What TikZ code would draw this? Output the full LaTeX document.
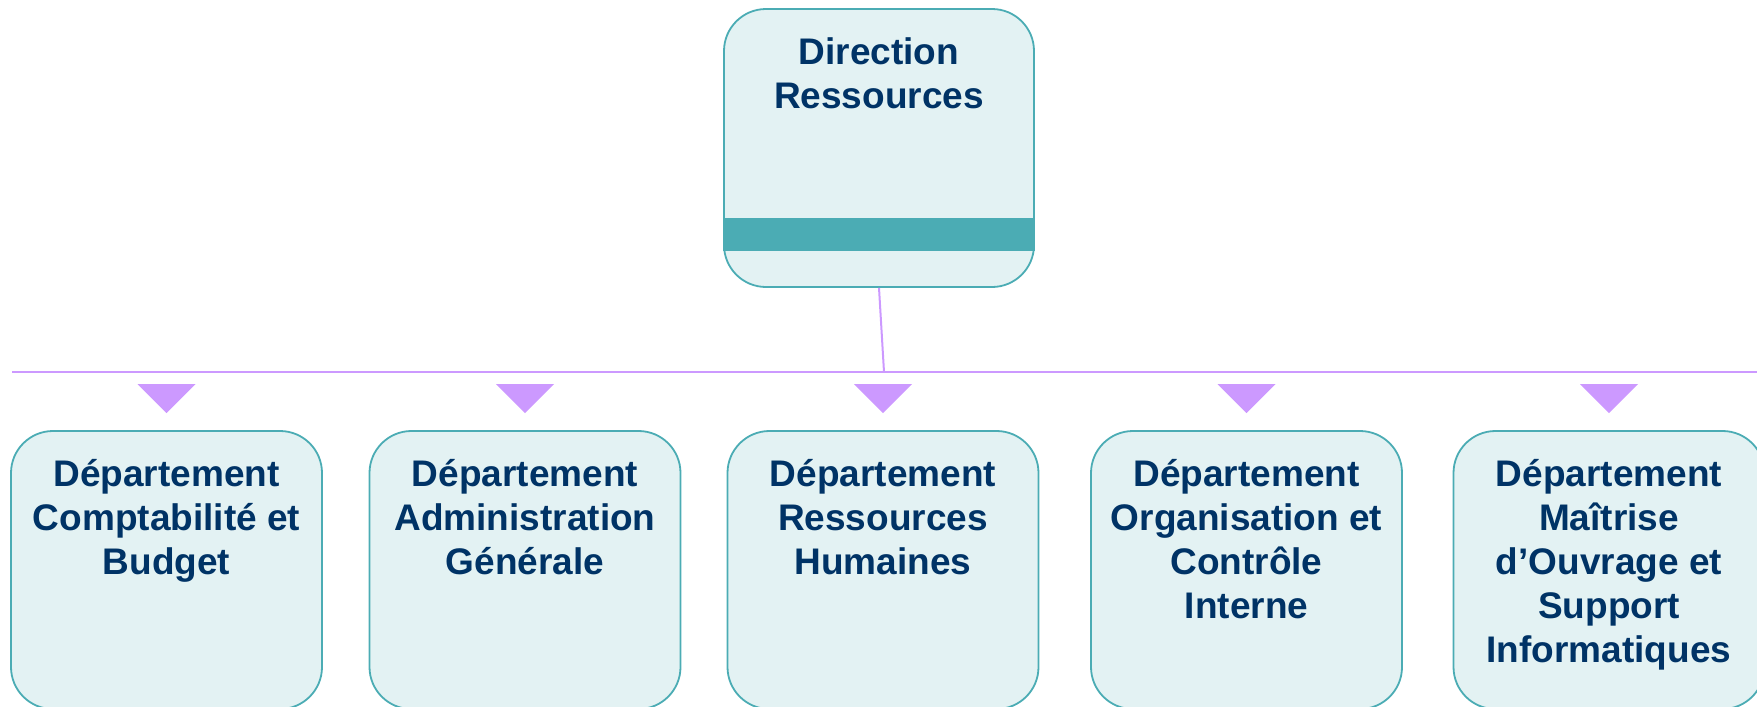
\documentclass[tikz,border=0pt]{standalone}
\usepackage{fontspec}
\setmainfont{Liberation Sans}
\definecolor{navytext}{RGB}{0,51,102}
\definecolor{boxfill}{RGB}{227,242,243}
\definecolor{boxline}{RGB}{75,172,180}
\definecolor{lilac}{RGB}{204,153,255}
\begin{document}
\begin{tikzpicture}[x=0.5pt,y=0.5pt,
    dept/.style={draw=boxline,line width=0.9pt,fill=boxfill,rounded corners=21pt,
        minimum width=155.5pt,minimum height=139pt,inner sep=0pt},
    head/.style={dept,minimum width=155pt,minimum height=139pt},
    lbl/.style={anchor=north,yshift=-14.5pt,inner sep=0pt,align=center,text=navytext,
        font=\fontsize{18.5}{22}\selectfont\bfseries},
    link/.style={draw=lilac,line width=1pt},
    pointer/.style={fill=lilac}]
            \useasboundingbox (0,0) rectangle (1757,-707);
            % head of the branch
            \node[head,label={[lbl]north:{Direction\\Ressources}}] (dr) at (879,-148) {};
            \fill[boxline] ([yshift=18.5pt]dr.south west) rectangle ([yshift=35pt]dr.south east);
            % bus
            \coordinate (busl) at (12,-372);
            \coordinate (busr) at (1757,-372);
            \coordinate (tap) at (884,-372);
            \draw[link] (busl) -- (busr);
            \draw[link] (dr.south) -- (tap);
            % departments
            \node[dept,label={[lbl]north:{Département\\Comptabilité et\\Budget}}] (d1) at (166.5,-570) {};
            \node[dept,label={[lbl]north:{Département\\Administration\\Générale}}] (d2) at (525,-570) {};
            \node[dept,label={[lbl]north:{Département\\Ressources\\Humaines}}] (d3) at (883,-570) {};
            \node[dept,label={[lbl]north:{Département\\Organisation et\\Contrôle\\Interne}}] (d4) at (1246.5,-570) {};
            \node[dept,label={[lbl]north:{Département\\Maîtrise\\d’Ouvrage et\\Support\\Informatiques}}] (d5) at (1609,-570) {};
            % pointers
            \fill[pointer] ([shift={(-29,46)}]d1.north) -- ([shift={(29,46)}]d1.north) -- ([shift={(0,17)}]d1.north) -- cycle;
            \fill[pointer] ([shift={(-29,46)}]d2.north) -- ([shift={(29,46)}]d2.north) -- ([shift={(0,17)}]d2.north) -- cycle;
            \fill[pointer] ([shift={(-29,46)}]d3.north) -- ([shift={(29,46)}]d3.north) -- ([shift={(0,17)}]d3.north) -- cycle;
            \fill[pointer] ([shift={(-29,46)}]d4.north) -- ([shift={(29,46)}]d4.north) -- ([shift={(0,17)}]d4.north) -- cycle;
            \fill[pointer] ([shift={(-29,46)}]d5.north) -- ([shift={(29,46)}]d5.north) -- ([shift={(0,17)}]d5.north) -- cycle;
        \end{tikzpicture}
\end{document}
